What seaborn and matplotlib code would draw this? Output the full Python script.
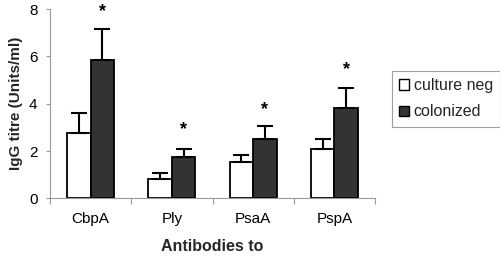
import matplotlib
matplotlib.use("Agg")
import matplotlib.pyplot as plt
import seaborn as sns
import pandas as pd
import numpy as np
from matplotlib.patches import Patch
from matplotlib.ticker import FixedLocator

categories = ["CbpA", "Ply", "PsaA", "PspA"]
groups = ["culture neg", "colonized"]
culture_neg = [2.75, 0.82, 1.52, 2.08]
colonized = [5.85, 1.76, 2.52, 3.80]
culture_neg_err = [0.84, 0.26, 0.31, 0.43]
colonized_err = [1.31, 0.31, 0.55, 0.87]
star_values = [7.9, 2.9, 3.75, 5.46]

sns.set_theme(style="white")
plt.rcParams["font.family"] = ["Liberation Sans", "DejaVu Sans"]

df = pd.DataFrame({
    "Antibody": categories * 2,
    "Group": [groups[0]] * 4 + [groups[1]] * 4,
    "Titre": culture_neg + colonized,
})

fig = plt.figure(figsize=(5, 2.6), dpi=100)
ax = fig.add_axes([0.10, 0.237, 0.65, 0.728])

sns.barplot(data=df, x="Antibody", y="Titre", hue="Group", order=categories,
            hue_order=groups, palette=["white", "#333333"], edgecolor="black",
            linewidth=1.3, width=0.58, gap=0, errorbar=None, ax=ax, legend=False)

patches = [p for p in ax.patches if p.get_height() > 0]
patches = sorted(patches, key=lambda p: p.get_x())
series = {groups[0]: (culture_neg, culture_neg_err), groups[1]: (colonized, colonized_err)}
for i, c in enumerate(categories):
    for j, g in enumerate(groups):
        p = patches[2 * i + j]
        xc = p.get_x() + p.get_width() / 2
        v, e = series[g][0][i], series[g][1][i]
        ax.errorbar(xc, v, yerr=[[0], [e]], fmt="none", ecolor="black",
                    elinewidth=1.5, capsize=6, capthick=1.5, zorder=1)
    p = patches[2 * i + 1]
    xc = p.get_x() + p.get_width() / 2
    ax.text(xc, star_values[i], "*", ha="center", va="center", fontsize=13,
            fontweight="bold", color="black", clip_on=False)

ax.set_ylim(0, 8)
ax.set_xlim(-0.5, 3.5)
ax.set_yticks([0, 2, 4, 6, 8])
ax.tick_params(axis="y", labelsize=11, length=3, width=0.8, color="#999999",
               pad=6, direction="out", left=True, labelcolor="black")
ax.tick_params(axis="x", which="major", labelsize=11, length=0, pad=10,
               labelcolor="black")
ax.xaxis.set_minor_locator(FixedLocator([-0.5, 0.5, 1.5, 2.5, 3.5]))
ax.tick_params(axis="x", which="minor", length=4, width=0.8, color="#999999",
               direction="out", bottom=True)

for s in ["top", "right"]:
    ax.spines[s].set_visible(False)
for s in ["left", "bottom"]:
    ax.spines[s].set_color("#999999")
    ax.spines[s].set_linewidth(0.8)

ax.set_ylabel("IgG titre (Units/ml)", fontsize=11, fontweight="bold", labelpad=4)
ax.set_xlabel("Antibodies to", fontsize=11.5, fontweight="bold", labelpad=9)

handles = [Patch(facecolor="white", edgecolor="black", linewidth=1.0),
           Patch(facecolor="#333333", edgecolor="black", linewidth=1.0)]
leg = fig.legend(handles, groups, loc="upper left",
                 bbox_to_anchor=(392 / 500, 1 - 71 / 260), fontsize=11.5,
                 frameon=True, fancybox=False, handlelength=0.6, handleheight=0.6,
                 handletextpad=0.3, labelspacing=0.7, borderpad=0.45,
                 borderaxespad=0)
leg.get_frame().set_edgecolor("#888888")
leg.get_frame().set_linewidth(0.8)

fig.savefig("out.png", dpi=100)
